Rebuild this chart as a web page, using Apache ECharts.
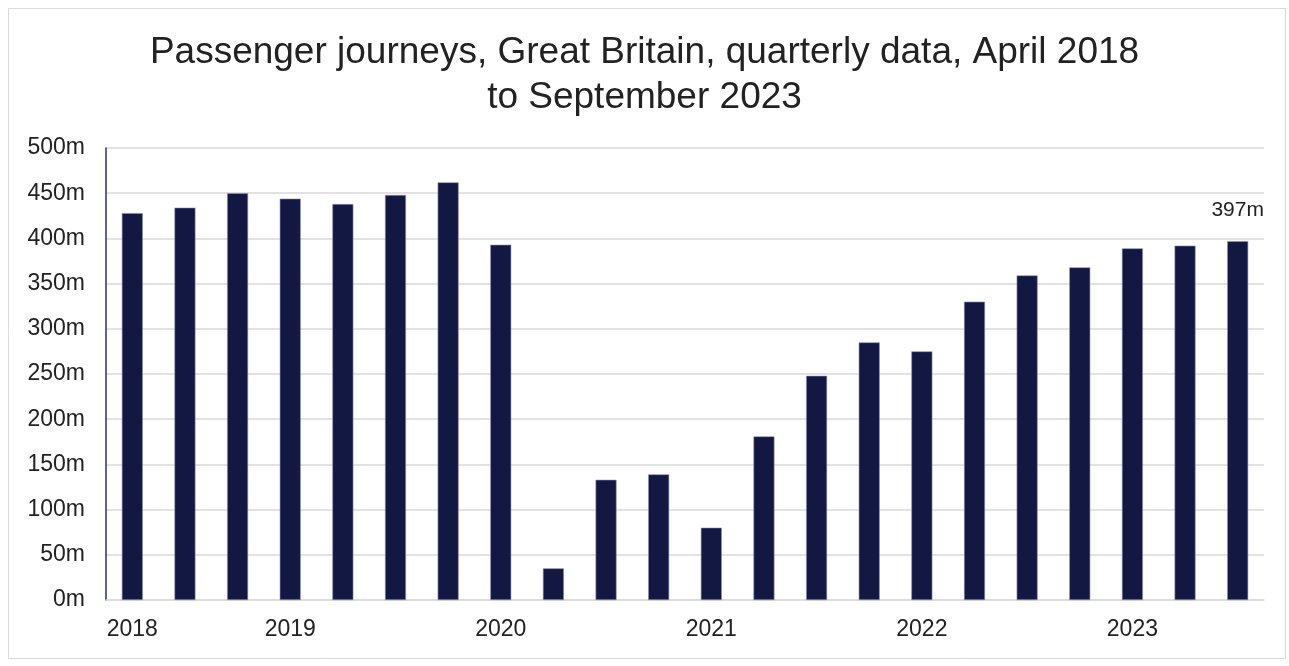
<!DOCTYPE html>
<html>
<head>
<meta charset="utf-8">
<script src="https://cdn.jsdelivr.net/npm/echarts@6/dist/echarts.min.js"></script>
<style>
html,body{margin:0;padding:0;background:#fff;}
#chart{width:1289px;height:666px;}
</style>
</head>
<body>
<div id="chart"></div>
<script>
const categories = [
  'Apr-Jun 2018','Jul-Sep 2018','Oct-Dec 2018',
  'Jan-Mar 2019','Apr-Jun 2019','Jul-Sep 2019','Oct-Dec 2019',
  'Jan-Mar 2020','Apr-Jun 2020','Jul-Sep 2020','Oct-Dec 2020',
  'Jan-Mar 2021','Apr-Jun 2021','Jul-Sep 2021','Oct-Dec 2021',
  'Jan-Mar 2022','Apr-Jun 2022','Jul-Sep 2022','Oct-Dec 2022',
  'Jan-Mar 2023','Apr-Jun 2023','Jul-Sep 2023'
];
const xTickLabels = [
  '2018','','',
  '2019','','','',
  '2020','','','',
  '2021','','','',
  '2022','','','',
  '2023','',''
];
const journeys = [428, 434, 450, 444, 438, 448, 462, 393, 35, 133, 139, 80, 181, 248, 285, 275, 330, 359, 368, 389, 392, 397];
const yTickValues = [0, 50, 100, 150, 200, 250, 300, 350, 400, 450, 500];

const chart = echarts.init(document.getElementById('chart'), null, {renderer: 'canvas'});
const lastIdx = journeys.length - 1;
const textColor = '#222222';
const font = 'Liberation Sans, Arial, sans-serif';

chart.setOption({
  backgroundColor: '#ffffff',
  animation: false,
  title: {
    text: 'Passenger journeys, Great Britain, quarterly data, April 2018\nto September 2023',
    left: 'center',
    top: 25,
    textStyle: {
      fontFamily: font,
      fontSize: 37,
      fontWeight: 'normal',
      color: textColor,
      lineHeight: 45
    }
  },
  graphic: [{
    type: 'rect',
    shape: {x: 8.5, y: 8.5, width: 1277, height: 650},
    style: {fill: 'none', stroke: '#d9d9d9', lineWidth: 1},
    silent: true,
    z: -1
  }],
  grid: {left: 106, right: 25, top: 148, bottom: 66, containLabel: false},
  xAxis: {
    type: 'category',
    data: categories,
    axisLine: {show: true, lineStyle: {color: '#d9d9d9', width: 1.5}},
    axisTick: {show: false},
    axisLabel: {
      interval: 0,
      margin: 18,
      fontFamily: font,
      fontSize: 23,
      color: textColor,
      formatter: function (v, i) { return xTickLabels[i]; }
    }
  },
  yAxis: {
    type: 'value',
    min: yTickValues[0],
    max: yTickValues[yTickValues.length - 1],
    interval: 50,
    axisLine: {show: true, lineStyle: {color: '#2b2f6b', width: 1.5}},
    axisTick: {show: false},
    splitLine: {show: true, lineStyle: {color: '#d9d9d9', width: 1.5}},
    axisLabel: {
      margin: 21,
      fontFamily: font,
      fontSize: 23,
      color: textColor,
      formatter: function (v) { return v + 'm'; }
    }
  },
  series: [{
    type: 'bar',
    data: journeys.map(function (v, i) {
      return i === lastIdx ? {
        value: v,
        label: {
          show: true,
          position: 'top',
          distance: 20,
          fontFamily: font,
          fontSize: 21,
          color: textColor,
          formatter: function (p) { return p.value + 'm'; }
        }
      } : v;
    }),
    barWidth: 21,
    itemStyle: {color: '#131842', borderColor: '#8f92b5', borderWidth: 0.6},
    silent: true
  }]
});
</script>
</body>
</html>
